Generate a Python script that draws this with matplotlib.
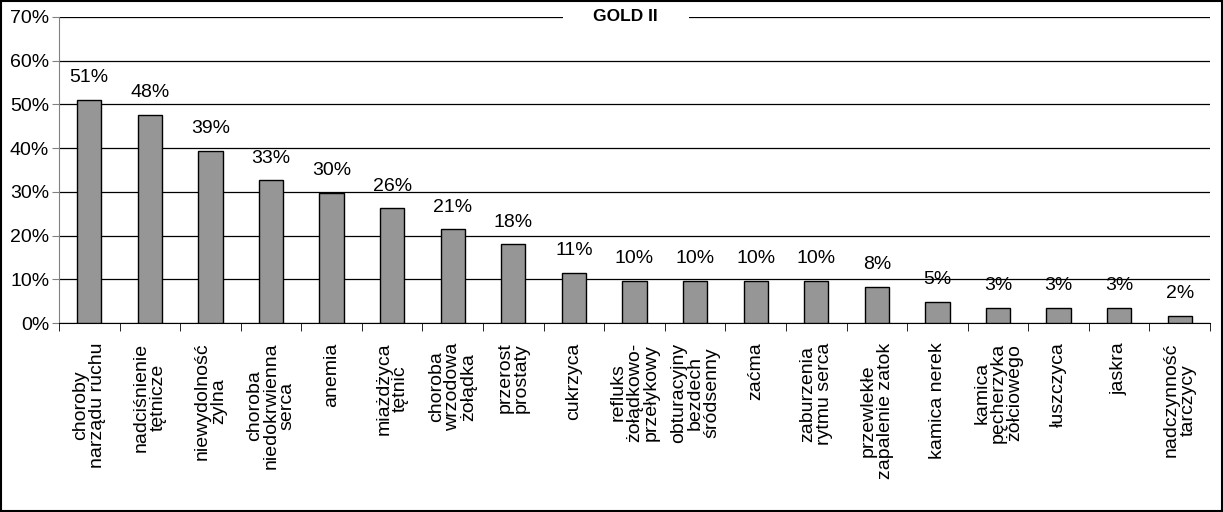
import matplotlib
matplotlib.use("Agg")
import matplotlib.pyplot as plt
import numpy as np
from matplotlib.ticker import FixedLocator, PercentFormatter
from matplotlib.patches import Rectangle

categories = [
    "choroby\nnarządu ruchu",
    "nadciśnienie\ntętnicze",
    "niewydolność\nżylna",
    "choroba\nniedokrwienna\nserca",
    "anemia",
    "miażdżyca\ntętnic",
    "choroba\nwrzodowa\nżołądka",
    "przerost\nprostaty",
    "cukrzyca",
    "refluks\nżołądkowo-\nprzełykowy",
    "obturacyjny\nbezdech\nśródsenny",
    "zaćma",
    "zaburzenia\nrytmu serca",
    "przewlekłe\nzapalenie zatok",
    "kamica nerek",
    "kamica\npęcherzyka\nżółciowego",
    "łuszczyca",
    "jaskra",
    "nadczynność\ntarczycy",
]
values = [51, 47.6, 39.4, 32.6, 29.7, 26.2, 21.4, 18.0, 11.4, 9.7, 9.7, 9.7, 9.7,
          8.2, 4.8, 3.4, 3.4, 3.4, 1.6]
value_labels = ["51%", "48%", "39%", "33%", "30%", "26%", "21%", "18%", "11%", "10%",
                "10%", "10%", "10%", "8%", "5%", "3%", "3%", "3%", "2%"]
y_ticks = [0, 10, 20, 30, 40, 50, 60, 70]
title = "GOLD II"

regular = ["Liberation Sans", "DejaVu Sans"]

fig = plt.figure(figsize=(12.23, 5.12), dpi=100)
fig.patches.append(Rectangle((0.0008, 0.001), 0.9984, 0.997, transform=fig.transFigure,
                             fill=False, edgecolor="black", linewidth=1.5, zorder=10))
ax = fig.add_axes([0.0482, 0.369, 0.9412, 0.598])

x = np.arange(len(categories))
ax.bar(x, values, width=0.4, color="#969696", edgecolor="black", linewidth=1.0, zorder=3)

ax.set_xlim(-0.5, len(categories) - 0.5)
ax.set_ylim(0, 70)
ax.set_yticks(y_ticks)
ax.yaxis.set_major_formatter(PercentFormatter(decimals=0))
ax.grid(axis="y", color="black", linewidth=0.9, zorder=0)
ax.set_axisbelow(True)

for s in ["top", "right"]:
    ax.spines[s].set_visible(False)
ax.spines["left"].set_color("#808080")
ax.spines["bottom"].set_color("black")

ax.tick_params(axis="y", length=5, color="#808080", labelsize=14, pad=2)
for lab in ax.get_yticklabels():
    lab.set_family(regular)

ax.set_xticks(x)
ax.set_xticklabels(categories, rotation=90, fontsize=14, family=regular,
                   multialignment="center", va="top", ha="center", linespacing=0.95)
ax.tick_params(axis="x", which="major", length=0, pad=14)
ax.xaxis.set_minor_locator(FixedLocator(np.arange(-0.5, len(categories), 1.0)))
ax.tick_params(axis="x", which="minor", length=6, color="black")

for xi, v, lab in zip(x, values, value_labels):
    ax.annotate(lab, (xi, v), xytext=(0, 16), textcoords="offset points",
                ha="center", va="center", fontsize=14, family=regular)

ax.text(0.492, 1.0, title, transform=ax.transAxes, ha="center", va="center",
        fontsize=12.5, fontweight="bold", family=regular, zorder=5)
# gap in the top gridline around the title
ax.add_patch(Rectangle((0.4375, 0.985), 0.11, 0.03, transform=ax.transAxes,
                       facecolor="white", edgecolor="none", zorder=4, clip_on=False))

fig.savefig("out.png", dpi=100)
